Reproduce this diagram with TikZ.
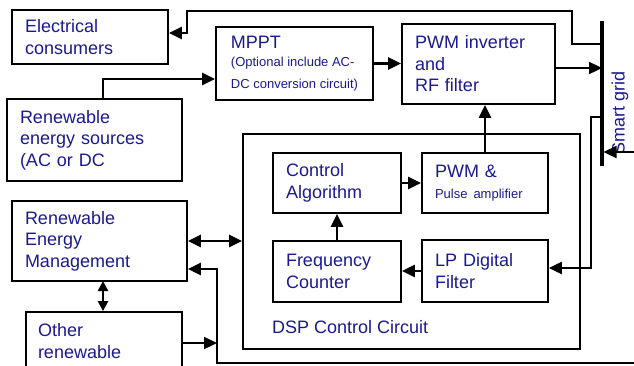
\documentclass[tikz,border=0pt]{standalone}
\usepackage{fontspec}
\setmainfont{Liberation Sans}
\usetikzlibrary{arrows.meta,calc}
\definecolor{txtblue}{RGB}{25,25,145}
\begin{document}
\begin{tikzpicture}[x=1pt,y=1pt,
  box/.style={draw=black,line width=1.8pt,inner xsep=13pt,inner ysep=0pt,align=left,
    text=txtblue,font=\fontsize{18}{21.5}\selectfont},
  conn/.style={line width=2.3pt},
  tip/.style={-{Triangle[length=13pt,width=12pt]}},
  dtip/.style={{Triangle[length=13pt,width=12pt]}-{Triangle[length=13pt,width=12pt]}},
  lbl/.style={text=txtblue,font=\fontsize{18}{21.5}\selectfont,inner sep=0pt}]
\useasboundingbox (0,0) rectangle (634,-365);
% boxes
\node[box,minimum width=156pt,text width=130pt,minimum height=54pt] (ec) at (90,-37) {Electrical\\consumers};
\node[box,inner xsep=13pt,minimum width=157pt,minimum height=73pt] (mppt) at (294.5,-63.5) {MPPT\\[-3pt]\fontsize{13}{16}\selectfont (Optional include AC-\\\fontsize{13}{16}\selectfont DC conversion circuit)};
\node[box,minimum width=153pt,text width=127pt,minimum height=80pt] (pwminv) at (478.5,-64) {PWM inverter\\and\\RF filter};
\node[box,minimum width=175pt,text width=149pt,minimum height=82pt] (res) at (94.5,-140) {Renewable\\energy sources\\(AC or DC};
\node[draw=black,line width=1.8pt,minimum width=337pt,minimum height=215pt,inner sep=0pt] (dsp) at (411.5,-241.5) {};
\node[lbl,anchor=west] (dsptxt) at (272,-327) {DSP Control Circuit};
\node[box,minimum width=128pt,text width=102pt,minimum height=60pt] (ca) at (337,-183) {Control\\Algorithm};
\node[box,minimum width=126pt,text width=100pt,minimum height=60pt] (pa) at (485,-183) {PWM \&\\\fontsize{13}{16}\selectfont Pulse amplifier};
\node[box,minimum width=128pt,text width=102pt,minimum height=61pt] (fc) at (337,-271.5) {Frequency\\Counter};
\node[box,minimum width=126pt,text width=100pt,minimum height=62pt] (lp) at (485,-271) {LP Digital\\Filter};
\node[box,minimum width=175pt,text width=149pt,minimum height=80pt] (rem) at (99.5,-241) {Renewable\\Energy\\Management};
\node[box,minimum width=156pt,text width=132pt,inner xsep=12pt,minimum height=58pt] (other) at (104,-341) {Other\\renewable};
% smart grid bar
\coordinate (bartop) at (602,-21);
\coordinate (barbot) at (602,-166);
\draw[line width=3.6pt] (bartop) -- (barbot);
\node[lbl,rotate=90] (sg) at (620,-113) {Smart grid};
% connectors
\coordinate (t1) at (602,-44);
\coordinate (t2) at (572,-11);
\coordinate (t3) at (187,-33);
\draw[conn,tip] (t1) -| (t2) -| (t3) -- (t3 -| ec.east);
\coordinate (r1) at (103,-79);
\draw[conn,tip] (r1 |- res.north) -- (r1) -- (r1 -| mppt.west);
\draw[conn,tip] (mppt.east) -- (mppt.east -| pwminv.west);
\coordinate (p1) at (555,-68);
\draw[conn,tip] (p1) -- (p1 -| bartop);
\coordinate (g1) at (602,-117);
\coordinate (g2) at (591,-268);
\draw[conn,tip] (g1) -| (g2) -- (g2 -| lp.east);
\coordinate (gin) at (640,-152);
\draw[conn,tip] (gin) -- (603.5,-152);
\draw[conn,tip] (pa.north) -- (pa.north |- pwminv.south);
\draw[conn,tip] (ca.east) -- (ca.east -| pa.west);
\draw[conn,tip] (fc.north) -- (fc.north |- ca.south);
\draw[conn,tip] (lp.west) -- (lp.west -| fc.east);
\draw[conn,dtip] (rem.east) -- (rem.east -| dsp.west);
\coordinate (v1) at (103,-281);
\draw[conn,{Triangle[length=10pt,width=10pt]}-{Triangle[length=10pt,width=10pt]}] (v1) -- (v1 |- other.north);
\coordinate (b1) at (640,-363);
\coordinate (b2) at (217,-269);
\draw[conn,tip] (b1) -| (b2) -- (b2 -| rem.east);
\coordinate (o1) at (217,-343);
\draw[conn,tip] (o1 -| other.east) -- (o1);
\end{tikzpicture}
\end{document}
